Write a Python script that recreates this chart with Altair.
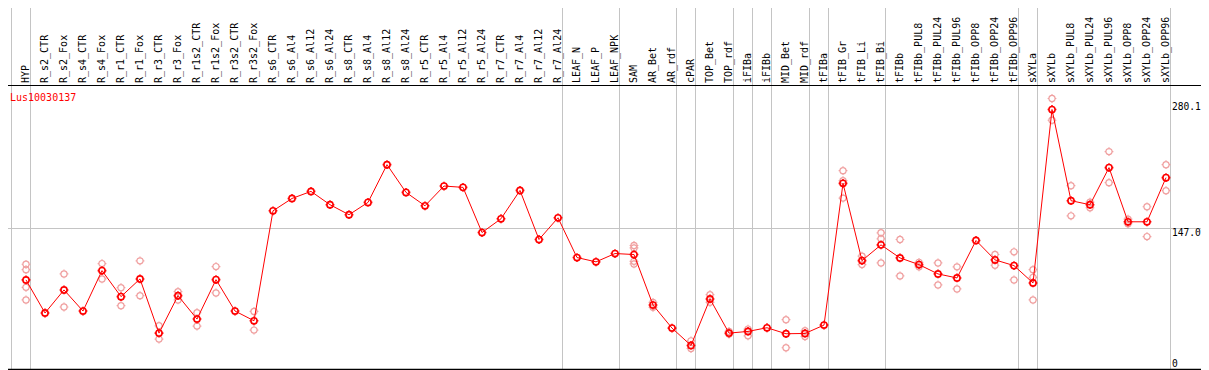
import altair as alt
import pandas as pd

gene = "Lus10030137"

categories = [
    "HYP", "R_s2_CTR", "R_s2_Fox", "R_s4_CTR", "R_s4_Fox", "R_r1_CTR", "R_r1_Fox",
    "R_r3_CTR", "R_r3_Fox", "R_r1s2_CTR", "R_r1s2_Fox", "R_r3s2_CTR", "R_r3s2_Fox",
    "R_s6_CTR", "R_s6_Al4", "R_s6_Al12", "R_s6_Al24", "R_s8_CTR", "R_s8_Al4",
    "R_s8_Al12", "R_s8_Al24", "R_r5_CTR", "R_r5_Al4", "R_r5_Al12", "R_r5_Al24",
    "R_r7_CTR", "R_r7_Al4", "R_r7_Al12", "R_r7_Al24", "LEAF_N", "LEAF_P", "LEAF_NPK",
    "SAM", "AR_Bet", "AR_rdf", "cPAR", "TOP_Bet", "TOP_rdf", "iFIBa", "iFIBb",
    "MID_Bet", "MID_rdf", "tFIBa", "tFIB_Gr", "tFIB_Li", "tFIB_Bi", "tFIBb",
    "tFIBb_PUL8", "tFIBb_PUL24", "tFIBb_PUL96", "tFIBb_OPP8", "tFIBb_OPP24",
    "tFIBb_OPP96", "sXYLa", "sXYLb", "sXYLb_PUL8", "sXYLb_PUL24", "sXYLb_PUL96",
    "sXYLb_OPP8", "sXYLb_OPP24", "sXYLb_OPP96",
]

means = [
    89.5, 52.5, 78.3, 54.7, 99.9, 70.8, 90.6, 30.0, 71.9, 45.7, 89.8, 54.7, 43.8,
    166.8, 180.6, 188.5, 173.6, 162.4, 176.2, 218.4, 187.4, 172.4, 194.5, 193.0,
    142.5, 157.9, 189.6, 134.7, 159.0, 114.5, 109.7, 119.0, 117.9, 61.4, 35.6,
    16.2, 68.2, 30.0, 31.9, 36.0, 29.3, 29.6, 39.0, 197.5, 111.1, 128.7, 114.1,
    106.6, 96.2, 91.7, 133.6, 111.9, 105.5, 86.1, 280.1, 178.1, 173.6, 215.1,
    154.5, 154.5, 203.9,
]

replicates = [
    [107.0, 101.0, 81.2, 67.1], [], [96.2, 59.2], [], [107.8, 90.6], [80.8, 60.7],
    [110.8, 71.9], [38.2, 23.3], [76.4, 67.1], [52.8, 37.9], [104.4, 74.9], [],
    [54.3, 33.4],
    [], [], [], [], [], [], [], [], [], [], [], [], [], [], [], [], [], [], [],
    [128.0, 125.3, 110.3, 107.4], [64.4, 58.8], [], [21.4, 12.8], [73.0, 64.4],
    [31.9, 28.9], [34.5, 27.0], [], [45.0, 13.6], [32.6, 26.2], [],
    [211.7, 200.5, 181.0], [116.0, 106.6], [142.2, 135.5, 108.5], [134.7, 94.0],
    [109.2, 104.1], [108.5, 83.9], [104.1, 79.4], [], [117.9, 105.9],
    [120.9, 89.5], [101.0, 92.4, 67.1], [292.4, 268.1], [194.9, 161.2],
    [176.5, 170.2], [233.0, 198.3], [157.4, 152.3], [171.3, 138.0],
    [218.4, 189.3],
]

separator_after = [-1, 0, 28, 31, 34, 35, 37, 38, 39, 41, 42, 45, 52, 53, 60]
grid_value = 147.0
max_label = 280.1
zero_label = 0

W, H = 1193, 283
xs = alt.Scale(domain=[-0.9474, 61.842], nice=False, zero=False)
ys = alt.Scale(domain=[-10.14, 306.38], nice=False, zero=False)

mean_df = pd.DataFrame({"idx": list(range(len(categories))), "cat": categories, "v": means})
rep_rows = [{"idx": i, "v": r} for i, reps in enumerate(replicates) for r in reps]
rep_df = pd.DataFrame(rep_rows)
sep_df = pd.DataFrame({"pos": [a + 0.2368 for a in separator_after]})
one = pd.DataFrame({"a": [0]})

marker = ("M0.7,0A0.7,0.7,0,1,1,-0.7,0A0.7,0.7,0,1,1,0.7,0"
          "M0,-1V-0.7M0,0.7V1M-1,0H-0.7M0.7,0H1")

grid = alt.Chart(pd.DataFrame({"v": [grid_value]})).mark_rule(color="#c4c4c4", strokeWidth=1).encode(
    y=alt.Y("v:Q", scale=ys, axis=None), x=alt.value(0), x2=alt.value(W))

seps = alt.Chart(sep_df).mark_rule(color="#c4c4c4", strokeWidth=1).encode(
    x=alt.X("pos:Q", scale=xs, axis=None), y=alt.value(-78), y2=alt.value(284))

top_line = alt.Chart(one).mark_rule(color="black", strokeWidth=1.2).encode(
    x=alt.value(0), x2=alt.value(W), y=alt.value(-0.5))
bottom_line = alt.Chart(one).mark_rule(color="black", strokeWidth=1.5).encode(
    x=alt.value(0), x2=alt.value(W), y=alt.value(283.5))

reps = alt.Chart(rep_df).mark_point(shape=marker, size=77, strokeWidth=1.2, color="#f0a0a0",
                                    filled=False, opacity=1).encode(
    x=alt.X("idx:Q", scale=xs, axis=None), y=alt.Y("v:Q", scale=ys, axis=None))

line = alt.Chart(mean_df).mark_line(color="#ff0000", strokeWidth=1).encode(
    x=alt.X("idx:Q", scale=xs, axis=None), y=alt.Y("v:Q", scale=ys, axis=None))

pts = alt.Chart(mean_df).mark_point(shape=marker, size=77, strokeWidth=1.6, color="#ff0000",
                                    filled=False, opacity=1).encode(
    x=alt.X("idx:Q", scale=xs, axis=None), y=alt.Y("v:Q", scale=ys, axis=None))

cat_labels = alt.Chart(mean_df).mark_text(angle=270, align="left", baseline="middle",
                                          font="DejaVu Sans Mono", fontSize=10, color="black").encode(
    x=alt.X("idx:Q", scale=xs, axis=None), y=alt.value(-3), text="cat:N")

gene_label = alt.Chart(one).mark_text(align="left", baseline="alphabetic", font="DejaVu Sans Mono",
                                      fontSize=10, color="#ff0000").encode(
    x=alt.value(2), y=alt.value(14.5), text=alt.value(gene))

max_lab = alt.Chart(pd.DataFrame({"v": [max_label], "t": [f"{max_label:.1f}"]})).mark_text(
    align="left", baseline="alphabetic", dy=1, font="DejaVu Sans Mono", fontSize=9.6, color="black").encode(
    x=alt.value(1164), y=alt.Y("v:Q", scale=ys, axis=None), text="t:N")

low_lab = alt.Chart(pd.DataFrame({"v": [grid_value, zero_label],
                                  "t": [f"{grid_value:.1f}", f"{zero_label}"]})).mark_text(
    align="left", baseline="top", dy=-1, font="DejaVu Sans Mono", fontSize=9.6, color="black").encode(
    x=alt.value(1164), y=alt.Y("v:Q", scale=ys, axis=None), text="t:N")

chart = alt.layer(grid, seps, top_line, bottom_line, reps, line, pts,
                  cat_labels, gene_label, max_lab, low_lab).properties(
    width=W, height=H, autosize="none",
    padding={"left": 0, "top": 78, "right": 0, "bottom": 1},
    background="white",
).configure_view(strokeWidth=0)

chart.save("out.html", embed_options={"renderer": "svg", "actions": False})
